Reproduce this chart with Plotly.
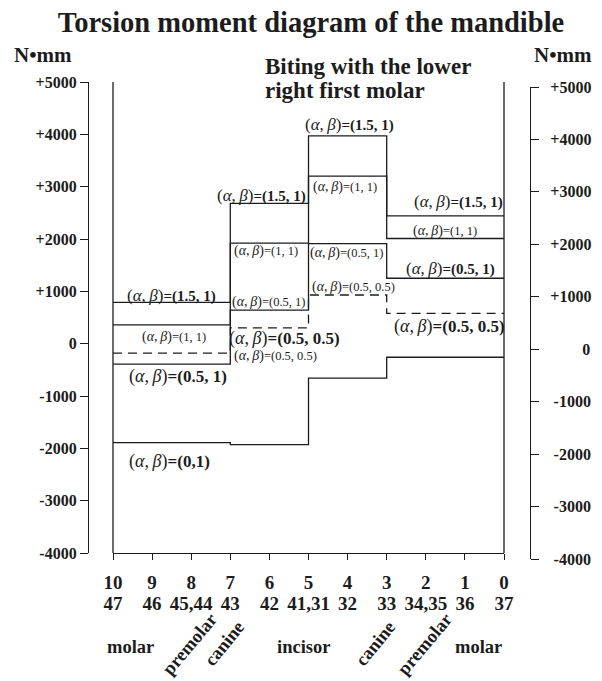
import plotly.graph_objects as go

# ------------------------------------------------------------------ data
SEG_BOUNDS = [10, 7, 5, 3, 0]              # tooth-position boundaries of the 4 segments
TOOTH_POS = [10, 9, 8, 7, 6, 5, 4, 3, 2, 1, 0]
TOOTH_ROW1 = ["10", "9", "8", "7", "6", "5", "4", "3", "2", "1", "0"]
TOOTH_ROW2 = ["47", "46", "45,44", "43", "42", "41,31", "32", "33", "34,35", "36", "37"]

# torsion moment (N·mm) per segment, for each (alpha, beta)
M_15_1 = [790, 2680, 3970, 2440]
M_1_1 = [360, 1920, 3200, 2010]
M_05_1 = [-390, 640, 1910, 1250]
M_05_05 = [-180, 300, 930, 580]
M_0_1 = [-1890, -1930, -660, -260]

Y_TICKS = [-4000, -3000, -2000, -1000, 0, 1000, 2000, 3000, 4000, 5000]
Y_TICK_TEXT = ["-4000", "-3000", "-2000", "-1000", "0",
               "+1000", "+2000", "+3000", "+4000", "+5000"]

TOOTH_GROUPS = ["molar", "premolar", "canine", "incisor", "canine", "premolar", "molar"]

# ------------------------------------------------------------------ styling / layout
W, H = 602, 681
FONT = "Liberation Serif"
INK = "#1c1c1c"


def fx(px):
    return px / W


def fy(px):
    return 1 - px / H


X_DOM = [fx(113), fx(504)]
Y_DOM = [fy(553), fy(82)]
Y3_DOM = [fy(559), fy(87)]

CURVES = {
    "15_1": (M_15_1, "1.5, 1", "solid"),
    "1_1": (M_1_1, "1, 1", "solid"),
    "05_1": (M_05_1, "0.5, 1", "solid"),
    "05_05": (M_05_05, "0.5, 0.5", "9px,6px"),
    "0_1": (M_0_1, "0,1", "solid"),
}

# (curve, segment index, size class, x shift px, y shift px)
LABELS = [
    ("15_1", 0, "med", 0, 7),
    ("1_1", 0, "small", 2, -12),
    ("05_1", 0, "big", 6, -12),
    ("0_1", 0, "big", -2, -19),
    ("05_05", 0, "small", 104, -3),
    ("15_1", 1, "med", -8, 8),
    ("1_1", 1, "small", -3, -8),
    ("05_1", 1, "small", 0, 8),
    ("05_05", 1, "big", 15, -11),
    ("15_1", 2, "med", 2, 11),
    ("1_1", 2, "small", -3, -11),
    ("05_1", 2, "small", -1, -9),
    ("05_05", 2, "small", 6, 8),
    ("15_1", 3, "med", 13, 14),
    ("1_1", 3, "small", 0, 7),
    ("05_1", 3, "med", 5, 10),
    ("05_05", 3, "big", 4, -13),
]
SIZES = {"big": (18, 17, True), "med": (17, 15, True), "small": (14, 12.5, False)}

# (x px, y px, rotation) for the tooth-group labels
GROUP_POS = [(130, 647, 0), (190, 644, -50), (224, 644, -51), (303, 647, 0),
             (375, 644, -51), (425, 644, -50), (478, 647, 0)]

fig = go.Figure()

step_x = SEG_BOUNDS
for key, (vals, _, dash) in CURVES.items():
    fig.add_trace(go.Scatter(
        x=step_x, y=list(vals) + [vals[-1]], mode="lines", line_shape="hv",
        line=dict(color=INK, width=1.3, dash=dash), hoverinfo="skip", showlegend=False))

# anchors for the second tick-label row and the shifted right axis
fig.add_trace(go.Scatter(x=[], y=[], xaxis="x2", yaxis="y", showlegend=False))
fig.add_trace(go.Scatter(x=[], y=[], xaxis="x", yaxis="y3", showlegend=False))

ann = []
for key, seg, cls, dx, dy in LABELS:
    vals, pair, _ = CURVES[key]
    ab, num, bold = SIZES[cls]
    nums = f"=({pair})"
    if bold:
        nums = f"<b>{nums}</b>"
    txt = (f"<span style='font-size:{ab}px'>(<i>α</i>,\u2009<i>β</i>)</span>"
           f"<span style='font-size:{num}px'>{nums}</span>")
    xm = (SEG_BOUNDS[seg] + SEG_BOUNDS[seg + 1]) / 2
    ann.append(dict(x=xm, y=vals[seg], xref="x", yref="y", text=txt, showarrow=False,
                    xanchor="center", yanchor="middle", xshift=dx, yshift=dy,
                    font=dict(family=FONT, size=num, color=INK)))

for name, (px, py, ang) in zip(TOOTH_GROUPS, GROUP_POS):
    ann.append(dict(x=fx(px), y=fy(py), xref="paper", yref="paper", text=f"<b>{name}</b>",
                    showarrow=False, textangle=ang, xanchor="center", yanchor="middle",
                    font=dict(family=FONT, size=18.5, color=INK)))

for px in (43, 563):
    ann.append(dict(x=fx(px), y=fy(55), xref="paper", yref="paper", text="<b>N•mm</b>",
                    showarrow=False, xanchor="center", yanchor="middle",
                    font=dict(family=FONT, size=21, color=INK)))

for line, py in (("Biting with the lower", 67), ("right first molar", 90)):
    ann.append(dict(x=fx(263), y=fy(py), xref="paper", yref="paper", text=f"<b>{line}</b>",
                    showarrow=False, xanchor="left", yanchor="middle",
                    font=dict(family=FONT, size=23, color=INK)))

# pad right-axis labels so they look right-aligned
right_text = []
for t in Y_TICK_TEXT:
    if t == "0":
        right_text.append("\u2007\u2007\u2007\u20070")
    elif t.startswith("-"):
        right_text.append("\u2009" + t)
    else:
        right_text.append(t)

tickfont = dict(family=FONT, size=16, color=INK, weight="bold")
xfont = dict(family=FONT, size=19, color=INK, weight="bold")

fig.update_layout(
    width=W, height=H, margin=dict(l=0, r=0, t=0, b=0, autoexpand=False),
    paper_bgcolor="white", plot_bgcolor="rgba(0,0,0,0)",
    title=dict(text="<b>Torsion moment diagram of the mandible</b>", x=fx(311), y=fy(22),
               xref="paper", yref="container", xanchor="center", yanchor="middle",
               automargin=False,
               font=dict(family=FONT, size=28.5, color=INK)),
    xaxis=dict(domain=X_DOM, range=[10, 0], anchor="y", showgrid=False, zeroline=False,
               automargin=False,
               showline=True, linecolor=INK, linewidth=1.3, ticks="outside", ticklen=6,
               tickwidth=1.3, tickcolor=INK, tickvals=TOOTH_POS, ticktext=TOOTH_ROW1,
               tickfont=xfont, ticklabelstandoff=6),
    xaxis2=dict(domain=X_DOM, range=[10, 0], overlaying="x", anchor="y", showgrid=False,
                automargin=False,
                zeroline=False, showline=False, ticks="outside", ticklen=6,
                tickcolor="rgba(0,0,0,0)", tickvals=TOOTH_POS, ticktext=TOOTH_ROW2,
                tickfont=xfont, ticklabelstandoff=27),
    yaxis=dict(domain=Y_DOM, range=[-4000, 5000], anchor="free", position=fx(88),
               automargin=False,
               side="left", showgrid=False, zeroline=False, showline=True, linecolor=INK,
               linewidth=1.3, ticks="outside", ticklen=8, tickwidth=1.3, tickcolor=INK,
               tickvals=Y_TICKS, ticktext=Y_TICK_TEXT, tickfont=tickfont),
    yaxis3=dict(domain=Y3_DOM, range=[-4000, 5000], anchor="free", position=fx(530),
                automargin=False,
                side="right", showgrid=False, zeroline=False, showline=True, linecolor=INK,
                linewidth=1.3, ticks="outside", ticklen=8, tickwidth=1.3, tickcolor=INK,
                tickvals=Y_TICKS, ticktext=right_text, tickfont=tickfont,
                ticklabelstandoff=8),
    annotations=ann,
    shapes=[
        dict(type="line", xref="x domain", yref="y domain", x0=0, x1=0, y0=0, y1=1,
             line=dict(color=INK, width=1.3)),
        dict(type="line", xref="x domain", yref="y domain", x0=1, x1=1, y0=0, y1=1,
             line=dict(color=INK, width=1.3)),
    ],
)

fig.write_html("out.html")
